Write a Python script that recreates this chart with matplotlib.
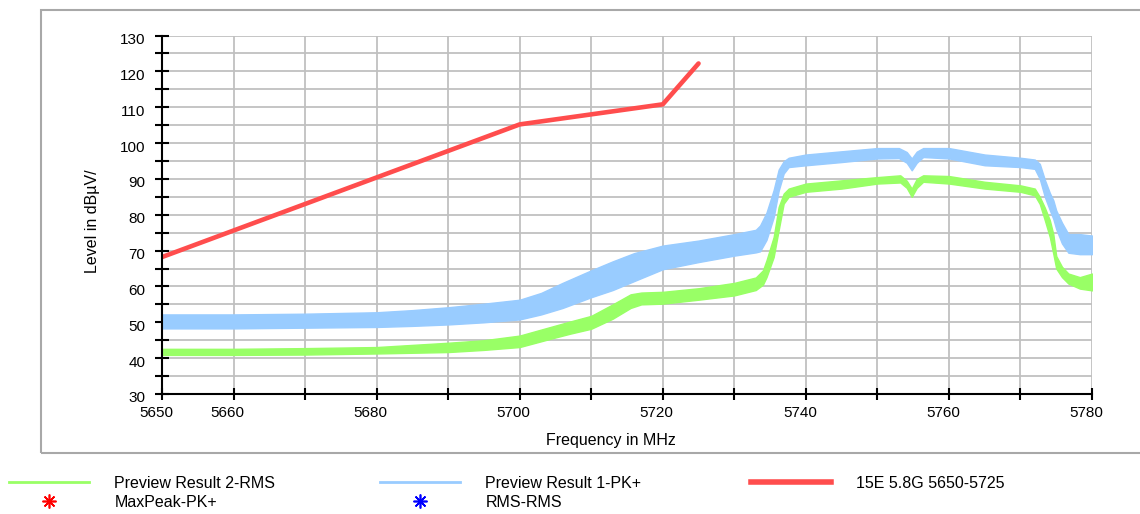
import matplotlib
matplotlib.use("Agg")
import matplotlib.pyplot as plt
from matplotlib.lines import Line2D
from matplotlib.patches import Rectangle
from matplotlib.transforms import ScaledTranslation

plt.rcParams['font.family'] = ['Liberation Sans', 'DejaVu Sans']

# ---- data ----
limit_freq = [5650, 5700, 5720, 5725]
limit_level = [68.2, 105.2, 110.8, 122.2]

pk_freq = [5650, 5660, 5670, 5680, 5685, 5690, 5695, 5700, 5703, 5706, 5710,
           5713, 5716, 5720, 5725, 5730, 5733, 5733.6, 5734.5, 5735.5, 5736.2,
           5736.9, 5737.6, 5740, 5745, 5750, 5753, 5754.1, 5754.8, 5755.5,
           5756.4, 5760, 5765, 5770, 5772, 5772.7, 5773.4, 5774.1, 5774.6,
           5775, 5775.8, 5776.7, 5778.3, 5780]
pk_low = [48.3, 48.3, 48.5, 48.7, 49.0, 49.4, 50.0, 50.8, 52.2, 54.0, 57.0,
          59.0, 61.5, 64.8, 66.8, 68.6, 69.5, 69.8, 73.0, 79.3, 86.7,
          91.5, 93.3, 93.8, 94.7, 95.7, 95.8, 94.5, 92.4, 94.5,
          96.1, 95.7, 93.8, 93.3, 92.8, 90.0, 85.0, 81.3, 78.8,
          76.0, 72.0, 69.4, 69.0, 69.0]
pk_high = [52.2, 52.2, 52.4, 52.8, 53.4, 54.2, 55.2, 56.3, 58.2, 61.0, 64.5,
           67.0, 69.3, 71.4, 72.8, 74.6, 75.8, 77.0, 80.6, 86.9, 92.6,
           94.9, 95.9, 96.8, 97.7, 98.6, 98.6, 97.5, 95.7, 97.6,
           98.6, 98.6, 96.8, 95.9, 95.4, 94.2, 89.8, 86.1, 84.0,
           81.2, 77.8, 74.6, 74.6, 74.2]

rms_freq = [5650, 5660, 5670, 5680, 5690, 5695, 5700, 5704.3, 5707, 5710,
            5713, 5715.5, 5717, 5720, 5725, 5730, 5733, 5734, 5734.5, 5735.5,
            5736.2, 5736.9, 5737.6, 5740, 5745, 5750, 5753.2, 5754.1, 5754.8,
            5755.5, 5756.4, 5760, 5765, 5770, 5772, 5772.7, 5773.4, 5774.1,
            5774.6, 5775, 5775.8, 5776.7, 5778.3, 5780]
rms_low = [40.9, 40.9, 41.0, 41.3, 41.7, 42.3, 43.1, 45.4, 46.8, 48.2,
           51.0, 54.0, 55.0, 55.2, 56.3, 57.5, 59.0, 60.5, 62.6, 68.2,
           75.7, 83.1, 85.0, 86.4, 87.3, 88.7, 89.0, 87.5, 85.0,
           87.5, 89.2, 88.7, 87.3, 86.4, 85.4, 83.0, 78.5, 73.8,
           69.0, 65.0, 62.6, 60.8, 59.4, 58.9]
rms_high = [42.6, 42.6, 42.8, 43.1, 44.3, 45.0, 46.3, 48.7, 50.2, 51.8,
            55.0, 57.8, 58.3, 58.5, 59.5, 61.0, 62.5, 64.5, 67.3, 73.8,
            82.2, 85.9, 87.3, 88.7, 89.6, 90.5, 91.0, 89.5, 87.3,
            90.0, 91.0, 90.8, 89.2, 88.2, 87.3, 85.0, 82.0, 78.5,
            74.5, 68.5, 65.5, 63.6, 62.6, 63.6]

x_ticks = list(range(5650, 5781, 10))
x_tick_labels = ['5650', '5660', '', '5680', '', '5700', '', '5720', '',
                 '5740', '', '5760', '', '5780']
y_major = list(range(30, 131, 10))
y_minor = list(range(35, 130, 10))

legend_labels = ['Preview Result 2-RMS', 'MaxPeak-PK+',
                 'Preview Result 1-PK+', 'RMS-RMS', '15E 5.8G 5650-5725']

C_GREEN = '#99ff66'
C_BLUE = '#99ccff'
C_RED = '#ff4d4d'
C_GRID = '#c0c0c0'

W, H = 1140, 514
fig = plt.figure(figsize=(W / 100, H / 100), dpi=100)
fig.patch.set_facecolor('white')

# outer frame
fig.add_artist(Rectangle((41 / W, 1 - 453 / H), (1150 - 41) / W, (453 - 10) / H,
                         transform=fig.transFigure, fill=False,
                         edgecolor='#a8a8a8', linewidth=1.5, clip_on=False))

ax = fig.add_axes([162 / W, 1 - 394 / H, (1092 - 162) / W, (394 - 35.5) / H])
ax.set_xlim(5650, 5780)
ax.set_ylim(30, 130)

ax.fill_between(pk_freq, pk_low, pk_high, color=C_BLUE, linewidth=1.0,
                edgecolor=C_BLUE, zorder=2)
ax.fill_between(rms_freq, rms_low, rms_high, color=C_GREEN, linewidth=1.0,
                edgecolor=C_GREEN, zorder=3)
ax.plot(limit_freq, limit_level, color=C_RED, linewidth=3.3,
        solid_capstyle='round', zorder=4)

# ticks & grid
ax.set_xticks(x_ticks)
ax.set_xticklabels(x_tick_labels)
ax.set_yticks(y_major)
ax.set_yticks(y_minor, minor=True)
ax.tick_params(axis='both', which='both', direction='inout', width=1.5,
               color='black', labelsize=11)
ax.tick_params(axis='x', which='major', length=9, pad=4)
ax.tick_params(axis='y', which='major', length=10, pad=7)
ax.tick_params(axis='y', which='minor', length=10)
ax.grid(True, which='both', color=C_GRID, linewidth=1.3)
ax.set_axisbelow(True)
for s in ['top', 'right']:
    ax.spines[s].set_visible(False)
for s in ['left', 'bottom']:
    ax.spines[s].set_linewidth(1.5)
    ax.spines[s].set_zorder(5)

dx = ScaledTranslation(-6 / 100, 0, fig.dpi_scale_trans)
for lab in ax.get_xticklabels():
    lab.set_transform(lab.get_transform() + dx)
dy = ScaledTranslation(0, -3 / 100, fig.dpi_scale_trans)
for lab in ax.get_yticklabels():
    lab.set_transform(lab.get_transform() + dy)

fig.text(611 / W, 1 - 440 / H, 'Frequency in MHz', ha='center', va='center',
         fontsize=11.5)
fig.text(93 / W, 1 - 221 / H, 'Level in dBµV/', ha='center', va='center',
         rotation=90, fontsize=11.5)

# legend (three blocks)
h_green = Line2D([], [], color=C_GREEN, linewidth=2)
h_rstar = Line2D([], [], color='red', linestyle='none', marker=(8, 2, 0),
                 markersize=10, markeredgewidth=1.2)
h_blue = Line2D([], [], color=C_BLUE, linewidth=2)
h_bstar = Line2D([], [], color='blue', linestyle='none', marker=(8, 2, 0),
                 markersize=10, markeredgewidth=1.2)
h_red = Line2D([], [], color=C_RED, linewidth=4)

common = dict(loc='upper left', frameon=False, fontsize=11.5, handlelength=5,
              handletextpad=1.6, labelspacing=0.25, borderpad=0,
              borderaxespad=0)
fig.legend(handles=[h_green, h_rstar], labels=legend_labels[0:2],
           bbox_to_anchor=(9 / W, 1 - 476 / H), **common)
fig.legend(handles=[h_blue, h_bstar], labels=legend_labels[2:4],
           bbox_to_anchor=(380 / W, 1 - 476 / H), **common)
fig.legend(handles=[h_red], labels=legend_labels[4:5],
           bbox_to_anchor=(751 / W, 1 - 476 / H), **common)

fig.savefig('out.png', dpi=100, facecolor='white')
